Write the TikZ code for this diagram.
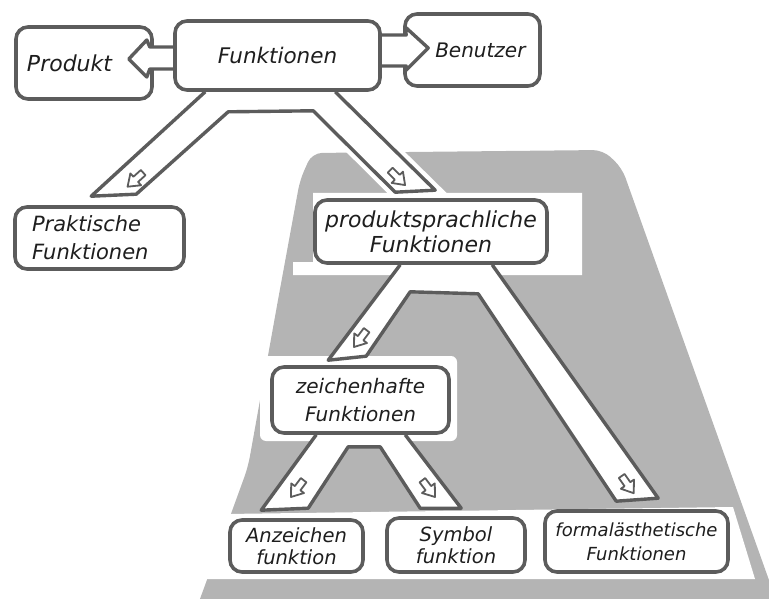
\documentclass[tikz,border=0pt]{standalone}
\usepackage{fontspec}
\setmainfont{DejaVu Sans}
\usetikzlibrary{calc}
\definecolor{ln}{RGB}{92,92,92}
\definecolor{halft}{RGB}{180,180,180}
\definecolor{ink}{RGB}{30,30,30}
\pgfdeclarelayer{bg}\pgfdeclarelayer{mid}\pgfdeclarelayer{front}
\pgfsetlayers{bg,mid,main,front}
\newcommand\hf[2]{\fontsize{#1}{#2}\selectfont\itshape}
\tikzset{
  box/.style={draw=ln, line width=3.6pt, rounded corners=12pt, fill=white, inner sep=0pt, text=ink, align=center},
  band/.style={draw=ln, line width=3.4pt, fill=white, line join=round},
  marr/.pic={\draw[ln, line width=1.8pt, fill=white, line join=round] (-3.5,-11) -- (3.5,-11) -- (3.5,-1) -- (8,-1) -- (0,10) -- (-8,-1) -- (-3.5,-1) -- cycle;},
}
\begin{document}
\begin{tikzpicture}[x=1pt,y=-1pt]
\useasboundingbox (0,0) rectangle (769,599);

% boxes
\node[box, minimum width=136pt, minimum height=72pt, text width=114pt, align=left, font=\hf{22}{26}] (pr) at (84,63) {Produkt};
\node[box, minimum width=135pt, minimum height=72pt, text width=106pt, align=right, font=\hf{20}{24}] (bn) at (472.5,50) {Benutzer};
\begin{pgfonlayer}{front}
\node[box, minimum width=205pt, minimum height=69pt, font=\hf{21.5}{26}] (fk) at (277.5,55.5) {Funktionen};
\end{pgfonlayer}
\node[box, minimum width=169pt, minimum height=62pt, text width=135pt, align=left, font=\hf{21}{28}] (pk) at (99.5,238) {Praktische\\Funktionen};
\node[box, minimum width=232pt, minimum height=63pt, font=\hf{22}{25}] (ps) at (431,231.5) {produktsprachliche\\Funktionen};
\node[box, minimum width=177pt, minimum height=66pt, font=\hf{20}{28}] (zh) at (360.5,400) {zeichenhafte\\Funktionen};
\node[box, minimum width=133pt, minimum height=52pt, font=\hf{19.5}{22}] (az) at (296.5,546) {Anzeichen\\funktion};
\node[box, minimum width=138pt, minimum height=54pt, font=\hf{19.5}{22}] (sy) at (456,545) {Symbol\\funktion};
\node[box, minimum width=183pt, minimum height=61pt, font=\hf{18}{24}] (fa) at (636.5,541.5) {formalästhetische\\Funktionen};

% horizontal arrows
\draw[band] ($(fk.west)+(15,-8.5)$) -- ($(pr.east)+(-4,-16)$) -- ($(pr.east)+(-7,-23)$) -- ($(pr.east)+(-25,-4)$) -- ($(pr.east)+(-7,14)$) -- ($(pr.east)+(-4,6)$) -- ($(fk.west)+(15,13.5)$);
\draw[band] ($(fk.east)+(-15,-20.5)$) -- ($(bn.west)+(3,-15)$) -- ($(bn.west)+(2,-23)$) -- ($(bn.west)+(25,-2)$) -- ($(bn.west)+(2,21)$) -- ($(bn.west)+(3,16)$) -- ($(fk.east)+(-15,10.5)$);

% background halftone area
\begin{pgfonlayer}{bg}
\begin{scope}
\clip (0,0) rectangle (769,599);
\fill[halft, rounded corners=10pt] (312,153) -- (603,150) -- (622,168) -- (785,625) -- (190,625) -- (200,599) -- (248,467) -- (278,300) -- (300,180) -- cycle;
\end{scope}
\fill[white] (313,193) -- (582,193) -- (582,275) -- (293,275) -- (293,262) -- (313,262) -- cycle;
\fill[white, rounded corners=6pt] (260,356) rectangle (457,441);
\fill[white] (226,514) -- (733,507) -- (755,579) -- (206,579) -- cycle;
\end{pgfonlayer}

% split bands
\begin{pgfonlayer}{mid}
\draw[band, preaction={draw=white, line width=12pt}]
  ($(fk.south west)+(32,0)$) -- ($(pk.north west)+(78,-9)$) -- ($(pk.north west)+(123,-11)$)
  -- ($(fk.south west)+(55,20)$) -- ($(fk.south west)+(140,19)$)
  -- ($(ps.north west)+(82,-6)$) -- ($(ps.north west)+(122,-8)$) -- ($(fk.south west)+(162,0)$);
\draw[band]
  ($(ps.south west)+(87,0)$) -- ($(zh.north west)+(58,-5)$) -- ($(zh.north west)+(96,-9)$)
  -- ($(ps.south west)+(97,27)$) -- ($(ps.south west)+(165,29)$)
  -- ($(fa.north west)+(73,-8)$) -- ($(fa.north west)+(115,-11)$) -- ($(ps.south west)+(179,0)$);
\draw[band]
  ($(zh.south west)+(46,0)$) -- ($(az.north west)+(33,-8)$) -- ($(az.north west)+(80,-10)$)
  -- ($(zh.south west)+(78,12)$) -- ($(zh.south west)+(110,12)$)
  -- ($(sy.north west)+(35,-8)$) -- ($(sy.north west)+(76,-8)$) -- ($(zh.south west)+(135,0)$);
\pic[rotate=-48] at (135,180) {marr};
\pic[rotate=45] at (398,178) {marr};
\pic[rotate=-37] at (360,339) {marr};
\pic[rotate=35] at (628,485) {marr};
\pic[rotate=-37] at (297,489) {marr};
\pic[rotate=37] at (429,489) {marr};
\end{pgfonlayer}
\end{tikzpicture}
\end{document}
